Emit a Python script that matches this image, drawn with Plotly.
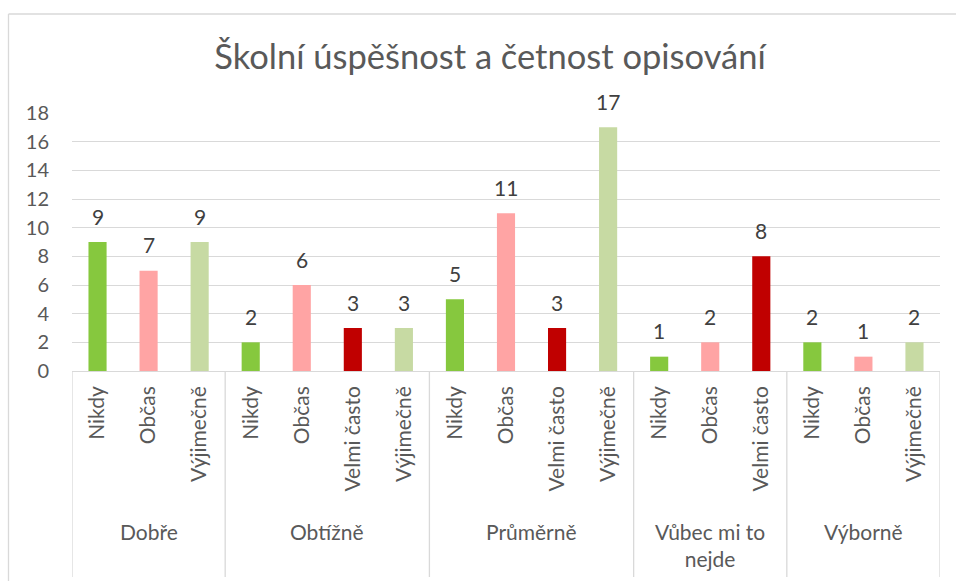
import plotly.graph_objects as go

# ---- data ----
groups = ["Dobře", "Obtížně", "Průměrně", "Vůbec mi to nejde", "Výborně"]
group_labels = ["Dobře", "Obtížně", "Průměrně", "Vůbec mi to<br>nejde", "Výborně"]
bar_groups = (["Dobře"] * 3 + ["Obtížně"] * 4 + ["Průměrně"] * 4
              + ["Vůbec mi to nejde"] * 3 + ["Výborně"] * 3)
bar_categories = ["Nikdy", "Občas", "Výjimečně",
                  "Nikdy", "Občas", "Velmi často", "Výjimečně",
                  "Nikdy", "Občas", "Velmi často", "Výjimečně",
                  "Nikdy", "Občas", "Velmi často",
                  "Nikdy", "Občas", "Výjimečně"]
bar_values = [9, 7, 9,
              2, 6, 3, 3,
              5, 11, 3, 17,
              1, 2, 8,
              2, 1, 2]
y_ticks = [0, 2, 4, 6, 8, 10, 12, 14, 16, 18]
title_text = "Školní úspěšnost a četnost opisování"

colors = {"Nikdy": "#86C83E", "Občas": "#FFA4A4",
          "Velmi často": "#C00000", "Výjimečně": "#C7DAA3"}

FONT = "Lato"
TXT = "#595959"

# ---- geometry (page pixels; body margin removed by post_script) ----
W, H = 956, 581
PL, PR, PT, PB = 72, 940, 113, 371          # plot area in page pixels
L, R, T, B = PL, W - PR, PT, H - PB
PW, PH = PR - PL, PB - PT


def py(pix):
    return (PB - pix) / PH


def px(pix):
    return (pix - PL) / PW


positions = list(range(len(bar_values)))

fig = go.Figure()
fig.add_trace(go.Bar(
    x=positions, y=bar_values,
    marker=dict(color=[colors[c] for c in bar_categories], line=dict(width=0)),
    width=0.355, hoverinfo="skip", showlegend=False,
))

annotations = []
for x, v in zip(positions, bar_values):
    annotations.append(dict(x=x, y=v, xref="x", yref="y", text=str(v),
                            showarrow=False, yanchor="middle", yshift=26,
                            font=dict(family=FONT, size=21, color="#404040")))

# group labels and separators
shapes = []
idx = 0
bounds = [-0.5]
for g, gl in zip(groups, group_labels):
    n = bar_groups.count(g)
    center = idx + (n - 1) / 2
    yc = 545 if "<br>" in gl else 531
    annotations.append(dict(x=center, y=py(yc), xref="x", yref="paper", text=gl,
                            showarrow=False, yanchor="middle",
                            font=dict(family=FONT, size=21, color=TXT)))
    idx += n
    bounds.append(idx - 0.5)

for b in bounds:
    shapes.append(dict(type="line", xref="x", yref="paper", x0=b, x1=b,
                       y0=0, y1=py(577), line=dict(color="#D9D9D9", width=1.3)))

# outer chart border (top and left visible)
shapes.append(dict(type="line", xref="paper", yref="paper", x0=px(8.5), x1=px(970),
                   y0=py(14), y1=py(14), line=dict(color="#D9D9D9", width=1.3)))
shapes.append(dict(type="line", xref="paper", yref="paper", x0=px(8.5), x1=px(8.5),
                   y0=py(14), y1=py(600), line=dict(color="#D9D9D9", width=1.3)))

fig.update_layout(
    width=W, height=H,
    margin=dict(l=L, r=R, t=T, b=B, pad=0),
    paper_bgcolor="white", plot_bgcolor="white",
    title=dict(text=title_text, x=490 / W, xanchor="center",
               y=1 - 57 / H, yanchor="middle",
               font=dict(family=FONT, size=34.5, color=TXT)),
    xaxis=dict(range=[-0.5, len(bar_values) - 0.5], tickmode="array",
               tickvals=positions, ticktext=bar_categories, tickangle=-90,
               ticks="", showgrid=False, zeroline=False, showline=False,
               ticklabelstandoff=10,
               tickfont=dict(family=FONT, size=21, color=TXT)),
    yaxis=dict(range=[0, 18], tickmode="array", tickvals=y_ticks,
               showgrid=True, gridcolor="#D9D9D9", gridwidth=1.3,
               zeroline=True, zerolinecolor="#D9D9D9", zerolinewidth=1.3,
               ticks="", ticklabelstandoff=22,
               tickfont=dict(family=FONT, size=20, color=TXT)),
    annotations=annotations, shapes=shapes, bargap=0.64,
)

fig.write_html(
    "out.html",
    config={"displayModeBar": False},
    post_script=("document.body.style.margin='0';"
                 "document.body.style.overflow='hidden';"
                 "document.documentElement.style.overflow='hidden';"),
)
